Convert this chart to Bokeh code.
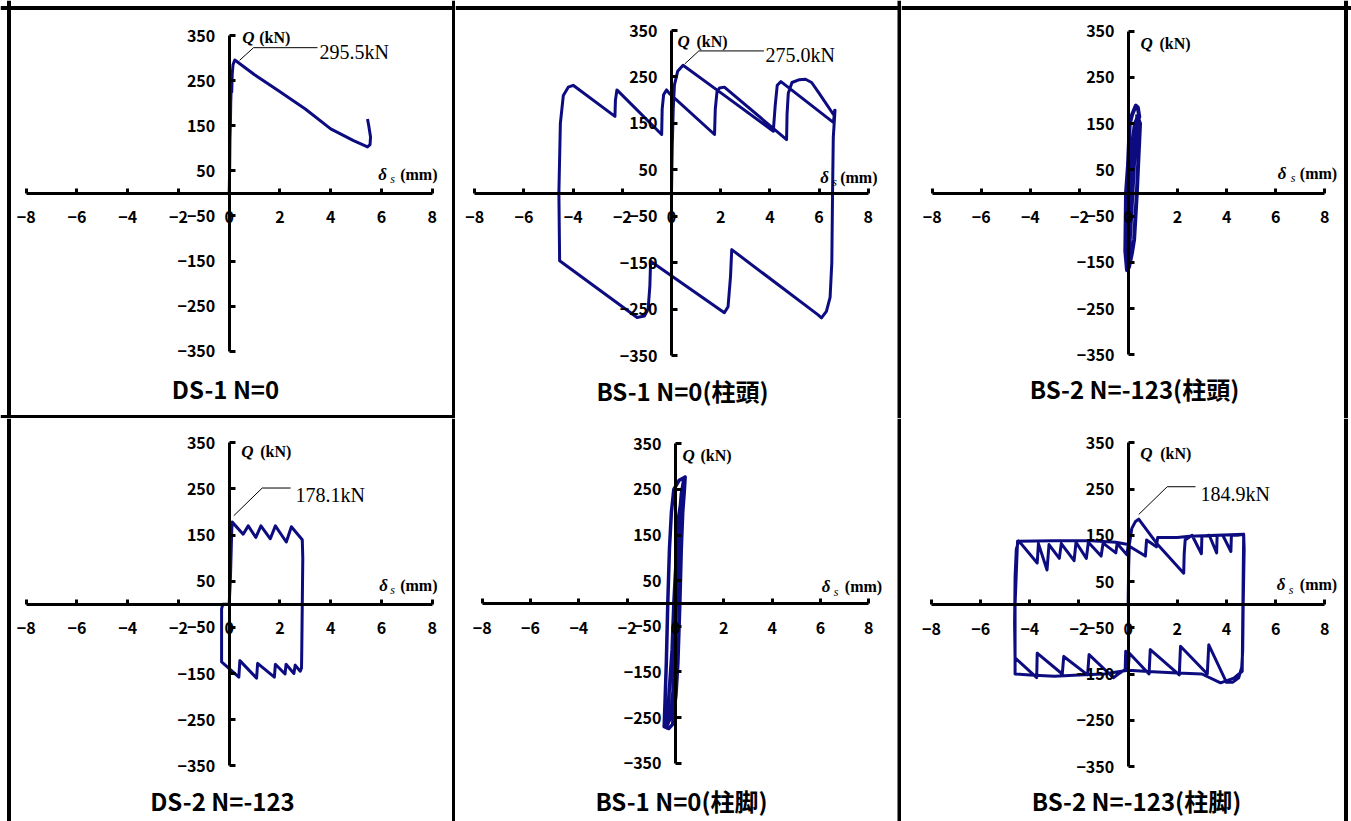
from bokeh.plotting import figure
from bokeh.layouts import column, row
from bokeh.models import Range1d, FixedTicker, Span, Label
from bokeh.embed import file_html
from bokeh.resources import INLINE

# ---------------- data (displacement δs in mm, shear Q in kN) ----------------
X_TICKS = [-8, -6, -4, -2, 0, 2, 4, 6, 8]
X_TICK_LABELS = ["−8", "−6", "−4", "−2", "0", "2", "4", "6", "8"]
Y_TICKS = [-350, -250, -150, -50, 50, 150, 250, 350]
Y_TICK_LABELS = ["−350", "−250", "−150", "−50", "50", "150", "250", "350"]

TITLES = ["DS-1 N=0", "BS-1 N=0(柱頭)", "BS-2 N=-123(柱頭)",
          "DS-2 N=-123", "BS-1 N=0(柱脚)", "BS-2 N=-123(柱脚)"]
PEAK_LABELS = ["295.5kN", "275.0kN", None, "178.1kN", None, "184.9kN"]

# DS-1 N=0
ds1_x = [0.0, 0.02, 0.03, 0.05, 0.06, 0.08, 0.1, 0.12, 0.15, 0.22, 1.0, 1.9, 3.0, 4.0,
         4.9, 5.45, 5.55, 5.57, 5.5, 5.45]
ds1_q = [0, 60, 120, 160, 200, 235, 225, 265, 285, 295.5, 263, 229, 187, 143,
         117, 103, 108, 125, 150, 165]

# BS-1 N=0 (柱頭)
bs1h_x = [0.0, 0.03, 0.07, 0.12, 0.25, 0.47, 1.9, 4.14, 4.22, 4.3, 4.45, 6.58, 6.65,
          6.58, 6.55, 6.52, 6.45, 6.3, 6.1, 5.95, 2.45, 2.4, 2.3, 2.15, -0.85, -0.88,
          -0.95, -1.1, -1.4, -4.55, -4.58, -4.52, -4.4, -4.2, -4.0, -2.3, -2.28, -2.22,
          -0.4, -0.38, -0.32, -0.2, -0.1, 1.75, 1.78, 1.85, 1.95, 2.15, 4.68, 4.7, 4.75,
          4.9, 5.2, 5.45, 5.7, 6.0, 6.6, 6.65]
bs1h_q = [0, 100, 180, 233, 262, 275.0, 220, 133, 190, 232, 240, 152, 178,
          120, 0, -150, -225, -255, -269, -262, -122, -180, -245, -258, -147, -200,
          -250, -265, -268, -146, 0, 150, 210, 228, 232, 165, 200, 222,
          126, 180, 212, 222, 215, 126, 180, 218, 226, 228, 115, 170, 215,
          238, 244, 245, 238, 215, 168, 180]

# BS-2 N=-123 (柱頭)
bs2h_x = [0.0, 0.12, 0.24, 0.34, 0.44, 0.38, 0.3, 0.15, 0.05, -0.02, -0.1, -0.13, -0.06,
          0.02, 0.14, 0.23, 0.34, 0.47, 0.4, 0.3, 0.19, 0.08, 0.0, -0.05, 0.04, 0.12,
          0.22, 0.33, 0.38, 0.26, 0.12, 0.03, -0.04, -0.08, 0.0, 0.1, 0.2, 0.3, 0.36]
bs2h_q = [0, 60, 110, 150, 165, 185, 189, 170, 150, 60, 0, -125, -167,
          -160, -130, -100, 0, 150, 160, 120, 40, -60, -130, -150, -110, -40,
          60, 140, 165, 150, 90, 0, -80, -140, -100, -20, 60, 120, 170]

# DS-2 N=-123
ds2_x = [0.0, 0.05, 0.08, 0.1, 0.12, 0.55, 0.75, 1.05, 1.25, 1.62, 1.82, 2.25, 2.45,
         2.88, 2.9, 2.88, 2.86, 2.85, 2.8, 2.6, 2.55, 2.24, 2.2, 1.82, 1.78, 1.12,
         1.08, 0.42, 0.38, -0.3, -0.3, -0.25, 0.0]
ds2_q = [0, 60, 120, 160, 178.1, 152, 170, 145, 170, 142, 170, 135, 168,
         140, 100, 0, -100, -138, -145, -132, -150, -130, -151, -130, -158, -128,
         -160, -122, -158, -125, -10, 0, 0]

# BS-1 N=0 (柱脚)
bs1f_x = [0.0, 0.07, 0.15, 0.24, 0.33, 0.4, 0.37, 0.3, 0.24, 0.18, 0.1, 0.02, -0.12,
          -0.28, -0.47, -0.43, -0.38, -0.32, -0.25, -0.17, -0.07, 0.15, 0.4, 0.3, 0.2,
          0.1, 0.02, -0.05, -0.1, -0.2, -0.36, -0.27, -0.14, -0.07, 0.03, 0.13, 0.3]
bs1f_q = [0, 100, 180, 240, 268, 277, 250, 200, 120, 0, -130, -200, -265,
          -274, -270, -210, -130, 0, 120, 200, 250, 270, 277, 240, 170,
          80, -20, -120, -190, -250, -268, -200, -100, 0, 100, 190, 250]

# BS-2 N=-123 (柱脚)
bs2f_x = [0.0, 0.02, 0.05, 0.15, 0.3, 0.43, 1.2, 2.26, 2.28, 2.32, 2.6, 2.98, 3.0, 3.3,
          3.6, 3.62, 3.85, 4.18, 4.2, 4.45, 4.7, 4.72, 4.68, 4.66, 4.62, 4.5, 4.25,
          4.0, 3.28, 3.22, 2.13, 2.08, 0.9, 0.85, 0.05, 0.0, -0.1, -0.12, -0.4, -0.6,
          -1.59, -1.65, -2.62, -2.68, -3.7, -3.72, -4.6, -4.62, -4.6, -4.55, -4.45,
          -3.7, -3.65, -3.3, -3.22, -2.8, -2.72, -2.2, -2.12, -1.7, -1.62, -1.1, -1.02,
          -0.5, -0.45, -0.05, 0.0, 0.7, 0.75, 1.15, 1.2, 2.0, 2.5, 4.7, 4.68, 4.64,
          4.3, 3.76, 3.0, 2.0, 1.0, 0.0, -1.0, -2.0, -3.0, -4.0, -4.6, -4.6, -4.5,
          -3.0, -1.5, -0.5, 0.0]
bs2f_q = [0, 80, 130, 165, 180, 184.9, 130, 68, 110, 140, 150, 110, 148, 150,
          112, 150, 150, 115, 150, 150, 152, 120, 0, -100, -135, -158, -168,
          -168, -87, -150, -90, -152, -97, -150, -105, -140, -101, -140, -150, -158,
          -108, -152, -112, -150, -105, -158, -115, -40, 60, 120, 138,
          90, 132, 75, 130, 100, 132, 95, 135, 100, 135, 105, 133,
          112, 132, 108, 128, 105, 140, 125, 145, 145, 148, 152, 60, -144,
          -159, -169, -150, -148, -145, -142, -150, -152, -155, -152, -150, 0, 137,
          138, 138, 135, 130]

SERIES = [(ds1_x, ds1_q), (bs1h_x, bs1h_q), (bs2h_x, bs2h_q),
          (ds2_x, ds2_q), (bs1f_x, bs1f_q), (bs2f_x, bs2f_q)]

CURVE_COLOR = "#0c0c80"
CURVE_WIDTH = [3, 3, 4, 3, 3.5, 3]

# ---------------- layout parameters (page pixels) ----------------
# fx, fy, fw, fh, px(x=-8), px(x=8), py(Q=350), py(Q=-350)
GEOM = [
    (0, 0, 455, 418, 25.7, 431.7, 35.0, 350.7),
    (455, 0, 446, 418, 474.3, 867.7, 30.0, 355.0),
    (901, 0, 450, 418, 931.7, 1324.3, 30.7, 354.3),
    (0, 418, 455, 403, 25.7, 431.7, 442.3, 765.3),
    (455, 418, 446, 403, 481.7, 868.3, 443.3, 762.7),
    (901, 418, 450, 403, 931.0, 1324.3, 442.3, 766.0),
]
TITLE_CENTER = [(225, 388), (682, 390), (1134, 388), (222, 800), (681, 800), (1136, 800)]
# border lines: (orientation, page pixel position)
BORDERS = [
    [("v", 8.5), ("v", 453.5), ("h", 7.5), ("h", 416.5)],
    [("v", 899.0), ("h", 7.5)],
    [("v", 1345.5), ("h", 7.5)],
    [("v", 8.5), ("v", 453.5)],
    [("v", 899.0)],
    [("v", 1345.5)],
]
# (Q x-offset, (kN) x-offset, baseline offset)
QLAB = [(13, 30, -2), (6, 25, -11), (12, 31, -12), (12, 31, -9), (7, 25, -12), (12, 32, -11)]
# (δ x-offset from x=8, s offset, (mm) offset, baseline above axis)
DLAB = [(-54, -42, -32, 19), (-48, -36, -28, 16), (-47, -34, -25, 20),
        (-53, -42, -32, 19), (-47, -35, -24, 17), (-48, -36, -25, 20)]
# leader line (start, bend, end) in data units, text anchor
LEADER = [
    ([0.41, 0.96, 3.48], [295, 323, 323], (3.56, 313)),
    ([0.54, 1.11, 3.76], [278, 306, 306], (3.82, 297)),
    None,
    ([0.18, 1.30, 2.42], [192, 252, 252], (2.61, 236)),
    None,
    ([0.43, 1.59, 2.74], [195, 255, 255], (2.94, 240)),
]

TICK_FONT = "Noto Sans CJK JP"
SERIF = "Liberation Serif"


def make_panel(i):
    fx, fy, fw, fh, a8, b8, t350, b350 = GEOM[i]
    sx = (b8 - a8) / 16.0
    x_start = -8 - (a8 - fx) / sx
    x_end = x_start + fw / sx
    sy = (b350 - t350) / 700.0
    y_end = 350 + (t350 - fy) / sy
    y_start = y_end - fh / sy

    p = figure(width=fw, height=fh, x_range=Range1d(x_start, x_end),
               y_range=Range1d(y_start, y_end), output_backend="svg",
               toolbar_location=None, min_border=0, outline_line_color=None,
               background_fill_color="white", border_fill_color="white")
    p.grid.visible = False

    for ax in (p.xaxis[0], p.yaxis[0]):
        ax.fixed_location = 0
        ax.axis_line_width = 3
        ax.axis_line_color = "black"
        ax.major_tick_line_width = 3
        ax.major_tick_line_color = "black"
        ax.major_tick_out = 0
        ax.minor_tick_line_color = None
        ax.major_label_text_font = TICK_FONT
        ax.major_label_text_font_style = "bold"
        ax.major_label_text_font_size = "16px"
        ax.major_label_text_color = "black"
    xa = p.xaxis[0]
    xa.ticker = FixedTicker(ticks=X_TICKS)
    xa.major_label_overrides = {t: s for t, s in zip(X_TICKS, X_TICK_LABELS)}
    xa.bounds = (-8, 8)
    xa.major_tick_in = 5
    xa.major_label_standoff = 18
    ya = p.yaxis[0]
    ya.ticker = FixedTicker(ticks=Y_TICKS)
    ya.major_label_overrides = {t: s for t, s in zip(Y_TICKS, Y_TICK_LABELS)}
    ya.bounds = (-350, 350)
    ya.major_tick_in = 6
    ya.major_label_standoff = 14

    # curve
    xs, qs = SERIES[i]
    p.line(xs, qs, line_color=CURVE_COLOR, line_width=CURVE_WIDTH[i], line_join="round")

    # axis captions
    qx, kx, qb = QLAB[i]
    p.add_layout(Label(x=0, y=350, x_offset=qx, y_offset=qb, text="Q",
                       text_font=SERIF, text_font_style="bold italic", text_color="black",
                       text_font_size="17px", text_baseline="alphabetic"))
    p.add_layout(Label(x=0, y=350, x_offset=kx, y_offset=qb, text="(kN)",
                       text_font=SERIF, text_font_style="bold", text_color="black",
                       text_font_size="16px", text_baseline="alphabetic"))
    dx, sxo, mx, db = DLAB[i]
    p.add_layout(Label(x=8, y=0, x_offset=dx, y_offset=db, text="δ",
                       text_font=SERIF, text_font_style="bold italic", text_color="black",
                       text_font_size="17px", text_baseline="alphabetic"))
    p.add_layout(Label(x=8, y=0, x_offset=sxo, y_offset=db - 5, text="s",
                       text_font=SERIF, text_font_style="italic", text_color="black",
                       text_font_size="12px", text_baseline="alphabetic"))
    p.add_layout(Label(x=8, y=0, x_offset=mx, y_offset=db, text="(mm)",
                       text_font=SERIF, text_font_style="bold", text_color="black",
                       text_font_size="16px", text_baseline="alphabetic"))

    # peak annotation
    if LEADER[i] is not None:
        lx, ly, (tx, ty) = LEADER[i]
        p.line(lx, ly, line_color="black", line_width=1)
        p.add_layout(Label(x=tx, y=ty, text=PEAK_LABELS[i], text_font=SERIF,
                           text_color="black", text_font_size="20px",
                           text_baseline="alphabetic"))

    # panel title
    cx, cy = TITLE_CENTER[i]
    p.add_layout(Label(x=x_start + (cx - fx) / sx, y=y_end - (cy - fy) / sy,
                       text=TITLES[i], text_font=TICK_FONT, text_font_style="bold",
                       text_color="black", text_font_size="24px", text_align="center",
                       text_baseline="middle"))

    # frame borders
    for orient, pos in BORDERS[i]:
        if orient == "v":
            sp = Span(location=x_start + (pos - fx) / sx, dimension="height")
        else:
            sp = Span(location=y_end - (pos - fy) / sy, dimension="width")
        sp.line_color = "black"
        sp.line_width = 4
        p.add_layout(sp)
    return p


panels = [make_panel(i) for i in range(6)]
layout = column(row(panels[0], panels[1], panels[2]),
                row(panels[3], panels[4], panels[5]))

open("out.html", "w").write(file_html(layout, INLINE))
